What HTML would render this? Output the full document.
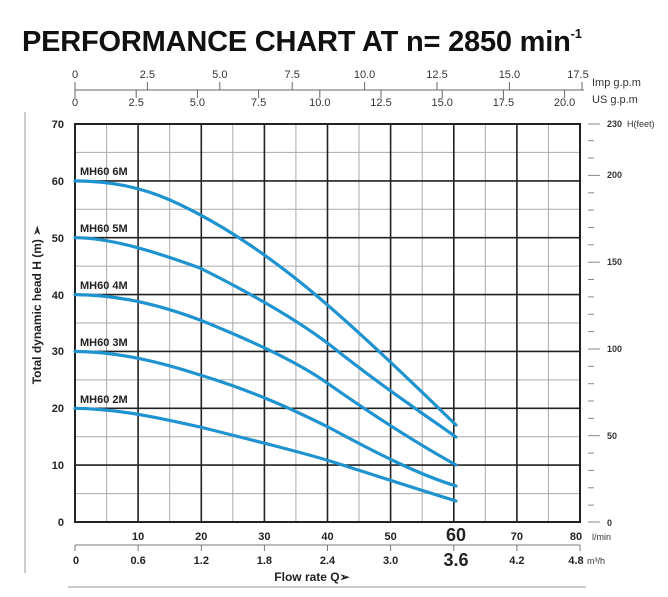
<!DOCTYPE html>
<html><head><style>
body{margin:0;background:#fff;}
svg{display:block;font-family:"Liberation Sans",Arial,sans-serif;}
</style></head><body>
<svg width="668" height="597" viewBox="0 0 668 597">
<text x="22" y="51" font-size="29" font-weight="bold" fill="#111" textLength="560">PERFORMANCE CHART AT n= 2850 min<tspan font-size="13" dy="-13">-1</tspan></text>

<!-- top axes -->
<g stroke="#666" stroke-width="1">
<line x1="75" y1="90" x2="584" y2="90"/>
<line x1="75" y1="82" x2="75" y2="98"/>
<line x1="147.4" y1="82" x2="147.4" y2="90"/><line x1="219.8" y1="82" x2="219.8" y2="90"/><line x1="292.2" y1="82" x2="292.2" y2="90"/><line x1="364.6" y1="82" x2="364.6" y2="90"/><line x1="437" y1="82" x2="437" y2="90"/><line x1="509.4" y1="82" x2="509.4" y2="90"/><line x1="582" y1="82" x2="582" y2="90"/>
<line x1="136.2" y1="90" x2="136.2" y2="98"/><line x1="197.4" y1="90" x2="197.4" y2="98"/><line x1="258.6" y1="90" x2="258.6" y2="98"/><line x1="319.8" y1="90" x2="319.8" y2="98"/><line x1="381" y1="90" x2="381" y2="98"/><line x1="442.2" y1="90" x2="442.2" y2="98"/><line x1="503.4" y1="90" x2="503.4" y2="98"/><line x1="564.6" y1="90" x2="564.6" y2="98"/>
</g>
<g font-size="11" fill="#333" text-anchor="middle">
<text x="75" y="78">0</text><text x="147.4" y="78">2.5</text><text x="219.8" y="78">5.0</text><text x="292.2" y="78">7.5</text><text x="364.6" y="78">10.0</text><text x="437" y="78">12.5</text><text x="509.4" y="78">15.0</text><text x="578" y="78">17.5</text>
<text x="75" y="106">0</text><text x="136.2" y="106">2.5</text><text x="197.4" y="106">5.0</text><text x="258.6" y="106">7.5</text><text x="319.8" y="106">10.0</text><text x="381" y="106">12.5</text><text x="442.2" y="106">15.0</text><text x="503.4" y="106">17.5</text><text x="564.6" y="106">20.0</text>
</g>
<text x="592" y="86" font-size="11" fill="#333">Imp g.p.m</text>
<text x="592" y="103" font-size="11" fill="#333">US  g.p.m</text>

<line x1="25" y1="112" x2="25" y2="573" stroke="#999" stroke-width="1"/>

<g stroke="#aaa" stroke-width="1">
<line x1="106.6" y1="124" x2="106.6" y2="522"/><line x1="169.7" y1="124" x2="169.7" y2="522"/><line x1="232.8" y1="124" x2="232.8" y2="522"/><line x1="295.9" y1="124" x2="295.9" y2="522"/><line x1="359" y1="124" x2="359" y2="522"/><line x1="422.2" y1="124" x2="422.2" y2="522"/><line x1="485.3" y1="124" x2="485.3" y2="522"/><line x1="548.4" y1="124" x2="548.4" y2="522"/>
<line x1="75" y1="152.4" x2="580" y2="152.4"/><line x1="75" y1="209.3" x2="580" y2="209.3"/><line x1="75" y1="266.1" x2="580" y2="266.1"/><line x1="75" y1="323" x2="580" y2="323"/><line x1="75" y1="379.9" x2="580" y2="379.9"/><line x1="75" y1="436.7" x2="580" y2="436.7"/><line x1="75" y1="493.6" x2="580" y2="493.6"/>
</g>
<g stroke="#222" stroke-width="1.6">
<line x1="138.1" y1="124" x2="138.1" y2="522"/><line x1="201.3" y1="124" x2="201.3" y2="522"/><line x1="264.4" y1="124" x2="264.4" y2="522"/><line x1="327.5" y1="124" x2="327.5" y2="522"/><line x1="390.6" y1="124" x2="390.6" y2="522"/><line x1="453.8" y1="124" x2="453.8" y2="522"/><line x1="516.9" y1="124" x2="516.9" y2="522"/>
<line x1="75" y1="180.9" x2="580" y2="180.9"/><line x1="75" y1="237.7" x2="580" y2="237.7"/><line x1="75" y1="294.6" x2="580" y2="294.6"/><line x1="75" y1="351.4" x2="580" y2="351.4"/><line x1="75" y1="408.3" x2="580" y2="408.3"/><line x1="75" y1="465.1" x2="580" y2="465.1"/>
<rect x="75" y="124" width="505" height="398" fill="none" stroke-width="2"/>
</g>

<g font-size="11" font-weight="bold" fill="#222" text-anchor="end">
<text x="64" y="128">70</text><text x="64" y="185">60</text><text x="64" y="242">50</text><text x="64" y="299">40</text><text x="64" y="355">30</text><text x="64" y="412">20</text><text x="64" y="469">10</text><text x="64" y="526">0</text>
</g>
<text transform="translate(41,305) rotate(-90)" font-size="12" font-weight="bold" fill="#222" text-anchor="middle">Total dynamic head H (m) ➢</text>

<g stroke="#888" stroke-width="1">
<line x1="588" y1="124" x2="600" y2="124"/><line x1="588" y1="140.7" x2="594" y2="140.7"/><line x1="588" y1="158" x2="594" y2="158"/><line x1="588" y1="175.4" x2="600" y2="175.4"/><line x1="588" y1="192.8" x2="594" y2="192.8"/><line x1="588" y1="210.1" x2="594" y2="210.1"/><line x1="588" y1="227.5" x2="594" y2="227.5"/><line x1="588" y1="244.8" x2="594" y2="244.8"/><line x1="588" y1="262.2" x2="600" y2="262.2"/><line x1="588" y1="279.5" x2="594" y2="279.5"/><line x1="588" y1="296.9" x2="594" y2="296.9"/><line x1="588" y1="314.2" x2="594" y2="314.2"/><line x1="588" y1="331.6" x2="594" y2="331.6"/><line x1="588" y1="349" x2="600" y2="349"/><line x1="588" y1="366.3" x2="594" y2="366.3"/><line x1="588" y1="383.7" x2="594" y2="383.7"/><line x1="588" y1="401" x2="594" y2="401"/><line x1="588" y1="418.4" x2="594" y2="418.4"/><line x1="588" y1="435.7" x2="600" y2="435.7"/><line x1="588" y1="453.1" x2="594" y2="453.1"/><line x1="588" y1="470.4" x2="594" y2="470.4"/><line x1="588" y1="487.8" x2="594" y2="487.8"/><line x1="588" y1="505.1" x2="594" y2="505.1"/><line x1="588" y1="522" x2="600" y2="522"/>
</g>
<g font-size="9" font-weight="bold" fill="#333">
<text x="607" y="127">230</text><text x="607" y="178">200</text><text x="607" y="265">150</text><text x="607" y="352">100</text><text x="607" y="439">50</text><text x="607" y="526">0</text>
</g>
<text x="627" y="127" font-size="9" fill="#333">H(feet)</text>

<g fill="none" stroke="#1f93d0" stroke-width="3.2" stroke-linecap="round" stroke-linejoin="round">
<path d="M75 180.9 C110 181 140 187 170 200 C215 220 260 250 300 282 C350 322 420 390 456 425"/>
<path d="M75 237.7 C110 238 150 250 200 268 C260 298 300 322 330 345 C380 385 425 415 456 437"/>
<path d="M75 294.6 C120 295 160 305 200 320 C250 340 300 363 330 385 C380 420 420 445 456 465"/>
<path d="M75 351.4 C120 352 160 362 200 375 C250 390 290 408 330 428 C380 455 420 475 456 486"/>
<path d="M75 408.3 C120 409 160 418 200 427 C260 442 300 452 330 461 C380 477 420 490 456 501"/>
</g>
<g font-size="11" font-weight="bold" fill="#222">
<text x="80" y="175">MH60 6M</text><text x="80" y="232">MH60 5M</text><text x="80" y="289">MH60 4M</text><text x="80" y="346">MH60 3M</text><text x="80" y="403">MH60 2M</text>
</g>

<g font-size="11" font-weight="bold" fill="#222" text-anchor="middle">
<text x="138.1" y="540">10</text><text x="201.3" y="540">20</text><text x="264.4" y="540">30</text><text x="327.5" y="540">40</text><text x="390.6" y="540">50</text><text x="516.9" y="540">70</text><text x="576" y="540">80</text>
<text x="456" y="541" font-size="18">60</text>
</g>
<text x="592" y="540" font-size="9" fill="#333">l/min</text>

<g stroke="#777" stroke-width="1">
<line x1="75" y1="545" x2="580" y2="545"/>
<line x1="75" y1="545" x2="75" y2="551"/><line x1="138.1" y1="545" x2="138.1" y2="551"/><line x1="201.3" y1="545" x2="201.3" y2="551"/><line x1="264.4" y1="545" x2="264.4" y2="551"/><line x1="327.5" y1="545" x2="327.5" y2="551"/><line x1="390.6" y1="545" x2="390.6" y2="551"/><line x1="453.8" y1="545" x2="453.8" y2="551"/><line x1="516.9" y1="545" x2="516.9" y2="551"/><line x1="580" y1="545" x2="580" y2="551"/>
</g>
<g font-size="11" font-weight="bold" fill="#222" text-anchor="middle">
<text x="76" y="564">0</text><text x="138.1" y="564">0.6</text><text x="201.3" y="564">1.2</text><text x="264.4" y="564">1.8</text><text x="327.5" y="564">2.4</text><text x="390.6" y="564">3.0</text><text x="516.9" y="564">4.2</text><text x="576" y="564">4.8</text>
<text x="456" y="566" font-size="18">3.6</text>
</g>
<text x="587" y="564" font-size="9" fill="#333">m³/h</text>
<text x="312" y="581" font-size="12" font-weight="bold" fill="#222" text-anchor="middle">Flow rate Q➢</text>
<line x1="68" y1="587" x2="586" y2="587" stroke="#999" stroke-width="1"/>
</svg>
</body></html>
